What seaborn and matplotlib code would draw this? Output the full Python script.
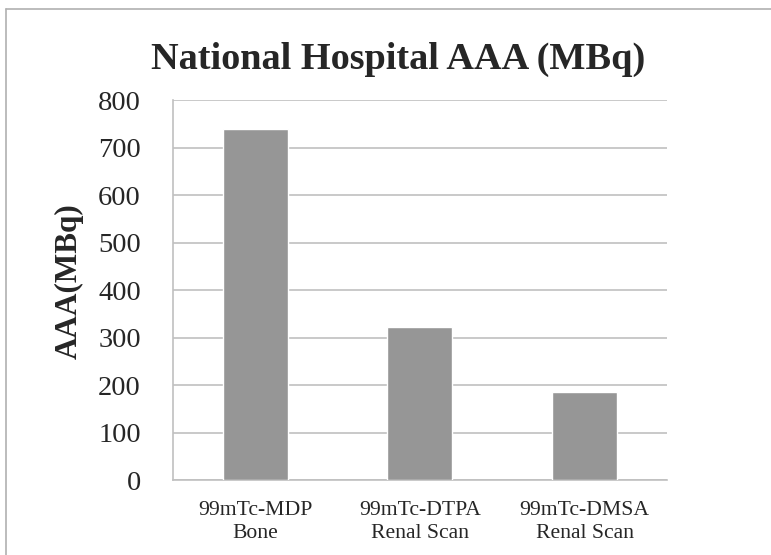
import matplotlib
matplotlib.use("Agg")
import matplotlib.pyplot as plt
import seaborn as sns
import pandas as pd
from matplotlib.lines import Line2D

categories = ["99mTc-MDP\nBone", "99mTc-DTPA\nRenal Scan", "99mTc-DMSA\nRenal Scan"]
values = [739, 322, 186]
yticks = [0, 100, 200, 300, 400, 500, 600, 700, 800]

sns.set_style("white")
plt.rcParams['font.family'] = ['Liberation Serif', 'DejaVu Serif']

df = pd.DataFrame({"scan": categories, "aaa": values})

fig = plt.figure(figsize=(7.71, 5.55), dpi=100)
ax = fig.add_axes([0.224, 0.1346, 0.865 - 0.224, 0.8198 - 0.1346])

sns.barplot(data=df, x="scan", y="aaa", color="#969696", width=0.395,
            saturation=1, ax=ax, zorder=3)

ax.set_ylim(0, 800)
ax.set_xlim(-0.5, 2.5)
ax.set_yticks(yticks)
ax.yaxis.grid(True, color="#c0c0c0", linewidth=1.2, zorder=0)
ax.set_axisbelow(True)

for side in ["top", "right"]:
    ax.spines[side].set_visible(False)
for side in ["left", "bottom"]:
    ax.spines[side].set_color("#c0c0c0")
    ax.spines[side].set_linewidth(1.2)

# category boundaries get the tick marks, labels sit under the bars
ax.set_xticks([-0.5, 0.5, 1.5, 2.5], minor=False)
ax.set_xticklabels([])
ax.set_xticks([0, 1, 2], minor=True)
ax.set_xticklabels(categories, minor=True, fontsize=15.6, linespacing=1.26)
ax.tick_params(axis="x", which="major", direction="out", length=5, color="#c0c0c0", width=1.2)
ax.tick_params(axis="x", which="minor", length=0, pad=15)
ax.tick_params(axis="y", direction="out", length=6, color="#c0c0c0", width=1.2,
               labelsize=20.5, pad=17)

ax.set_xlabel("")
ax.set_ylabel("AAA(MBq)", fontsize=22.5, fontweight="bold", labelpad=10)
ax.yaxis.label.set_y(0.524)
fig.text(0.516, 1 - 69.3 / 555, "National Hospital AAA (MBq)", fontsize=27.5,
         fontweight="bold", ha="center", va="baseline")

# chart area border (left and top edges visible)
fig.add_artist(Line2D([0.0078, 0.0078], [0, 1 - 9 / 555], transform=fig.transFigure,
                      color="#b0b0b0", linewidth=1.2))
fig.add_artist(Line2D([0.0078, 1], [1 - 9 / 555, 1 - 9 / 555], transform=fig.transFigure,
                      color="#b0b0b0", linewidth=1.2))

fig.savefig("out.png", dpi=100)
